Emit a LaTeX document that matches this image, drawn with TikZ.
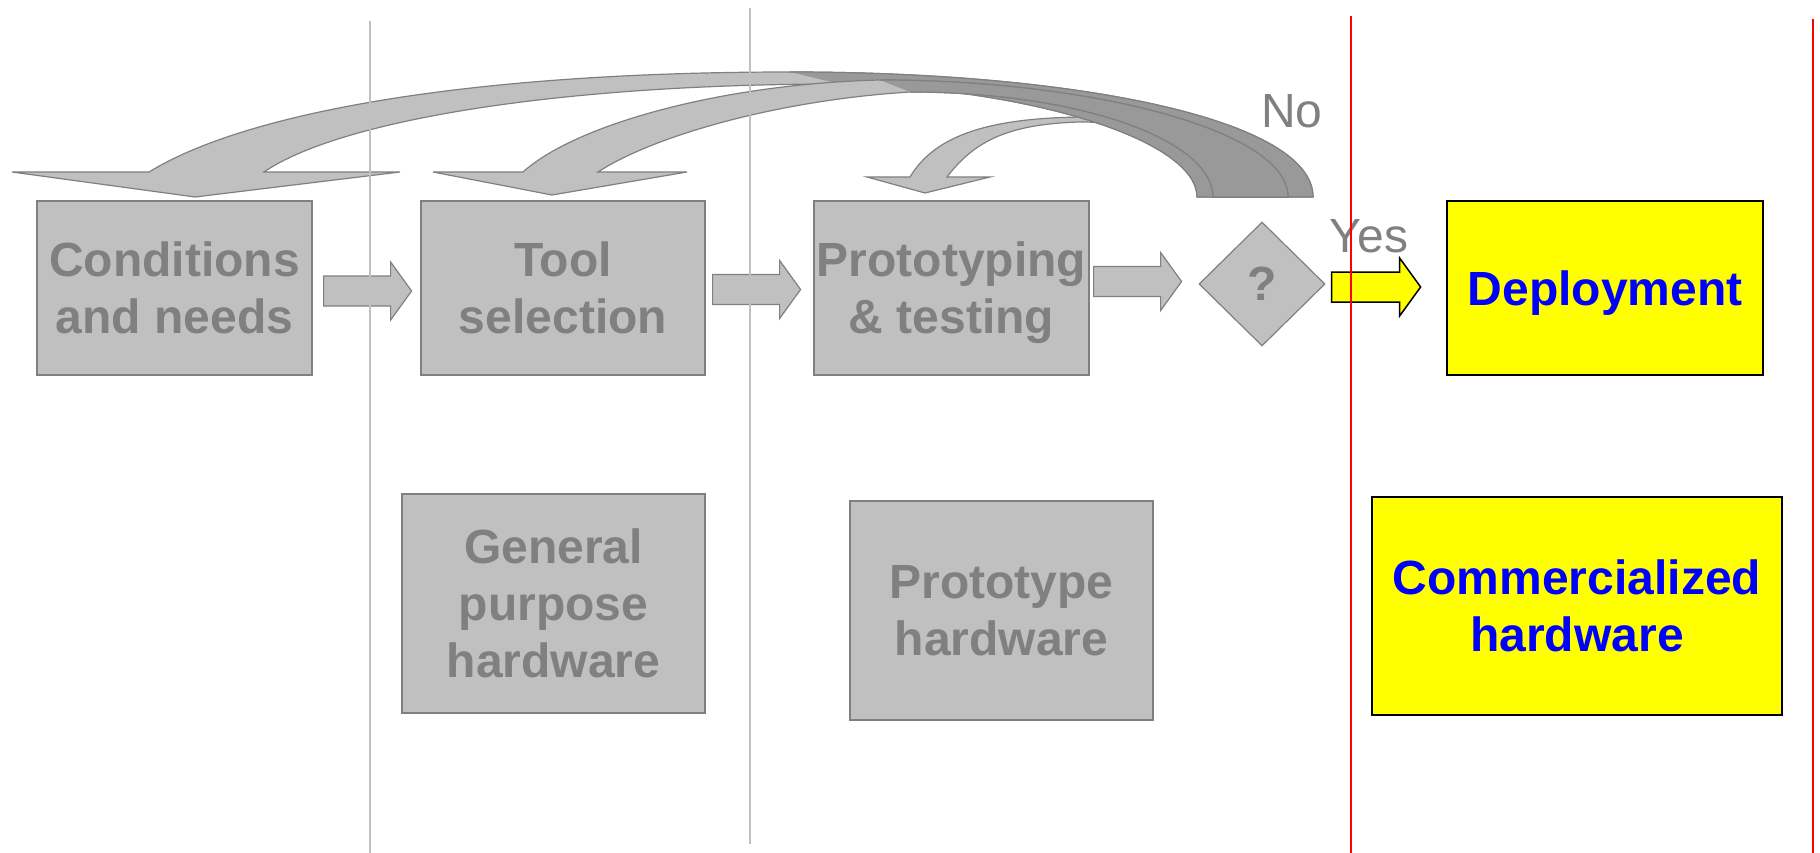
\documentclass[tikz,border=0pt]{standalone}
\usepackage{fontspec}
\setmainfont{Liberation Sans}
\usetikzlibrary{shapes.geometric}
\definecolor{lgray}{RGB}{192,192,192}
\definecolor{dgray}{RGB}{153,153,153}
\definecolor{egray}{RGB}{128,128,128}
\definecolor{pyellow}{RGB}{255,255,0}
\definecolor{pblue}{RGB}{0,0,255}

\begin{document}
\begin{tikzpicture}[x=1pt,y=-1pt,
  box/.style={draw=egray,fill=lgray,line width=1.2pt,text=egray,align=center,
    inner sep=0pt,text depth=0pt,font=\fontsize{48}{57}\selectfont\bfseries},
  ybox/.style={box,draw=black,fill=pyellow,line width=2pt,text=pblue},
  front/.style={fill=lgray,draw=egray,line width=1.2pt},
  back/.style={fill=dgray},
  edge/.style={draw=egray,line width=1.2pt},
  yarr/.style={fill=pyellow,draw=black,line width=1.5pt},
  lbl/.style={text=egray,anchor=base,inner sep=0pt,font=\fontsize{48}{57}\selectfont},
  sep/.style={lgray,line width=2pt},
  lim/.style={red,line width=2.5pt}]
 \useasboundingbox (0,0) rectangle (1820,853);

 % loop back arrows
 \filldraw[front] (910,177) -- (867,177) -- (925,193) -- (990,177) -- (947,177)
   .. controls (975,140) and (1010,124) .. (1080,122)
   .. controls (1160,122) and (1213,150) .. (1213,197) -- (1288,197)
   .. controls (1288,150) and (1200,117) .. (1090,117)
   .. controls (990,117) and (935,135) .. (910,177) -- cycle;

 \filldraw[front] (149,172) -- (12,172) -- (195,197) -- (400,172) -- (264,172)
   .. controls (340,120) and (560,84) .. (840,84)
   .. controls (1030,88) and (1197,140) .. (1197,197) -- (1313,197)
   .. controls (1313,120) and (1080,72) .. (790,72)
   .. controls (480,72) and (250,110) .. (149,172) -- cycle;
 \fill[back] (790,72) .. controls (1080,72) and (1313,120) .. (1313,197) -- (1197,197)
   .. controls (1197,140) and (1030,88) .. (840,84) -- cycle;
 \draw[edge] (840,84) .. controls (1030,88) and (1197,140) .. (1197,197) -- (1313,197)
   .. controls (1313,120) and (1080,72) .. (790,72);

 \filldraw[front] (523,172) -- (433,172) -- (552,195) -- (687,172) -- (598,172)
   .. controls (655,135) and (780,100) .. (910,92)
   .. controls (1080,92) and (1213,140) .. (1213,197) -- (1288,197)
   .. controls (1288,130) and (1090,80) .. (880,80)
   .. controls (720,84) and (575,125) .. (523,172) -- cycle;
 \fill[back] (880,80) .. controls (1090,80) and (1288,130) .. (1288,197) -- (1213,197)
   .. controls (1213,140) and (1080,92) .. (910,92) -- cycle;
 \draw[edge] (910,92) .. controls (1080,92) and (1213,140) .. (1213,197) -- (1288,197)
   .. controls (1288,130) and (1090,80) .. (880,80);

 % stages
 \node[box,minimum width=275pt,minimum height=174pt] (cond) at (174.5,288) {Conditions\\and needs};
 \node[box,minimum width=284pt,minimum height=174pt] (tool) at (563,288) {Tool\\selection};
 \node[box,minimum width=275pt,minimum height=174pt] (proto) at (951.5,288) {Prototyping\\\& testing};
 \node[box,diamond,aspect=1,minimum width=126pt,minimum height=124pt] (dec) at (1262,284) {?};
 \node[ybox,minimum width=316pt,minimum height=174pt] (deploy) at (1605,288) {Deployment};

 \node[box,minimum width=303pt,minimum height=219pt] (gph) at (553.5,603.5) {General\\purpose\\hardware};
 \node[box,minimum width=303pt,minimum height=219pt] (phw) at (1001.5,610.5) {Prototype\\hardware};
 \node[ybox,minimum width=410pt,minimum height=218pt] (chw) at (1577,606) {Commercialized\\hardware};

 \foreach \a/\dx/\dy in {cond/11/3,tool/7/1.5,proto/4/-6.5}
   \draw[front] ([shift={(\dx,\dy-15)}]\a.east) -- ++(67,0) -- ++(0,-14) -- ++(21,29)
     -- ++(-21,29) -- ++(0,-14) -- ++(-67,0) -- cycle;
 \draw[yarr] ([shift={(6,-12)}]dec.east) -- ++(68,0) -- ++(0,-14) -- ++(21,29)
   -- ++(-21,29) -- ++(0,-14) -- ++(-68,0) -- cycle;

 \node[lbl] (no) at (1292,128) {No};
 \node[lbl] (yes) at (1369,252) {Yes};

 % column limits
 \draw[sep] (370,21) -- (370,853);
 \draw[sep] (750,8) -- (750,844);
 \draw[lim] (1351,16) -- (1351,853);
 \draw[lim] (1813,19) -- (1813,853);
\end{tikzpicture}
\end{document}
